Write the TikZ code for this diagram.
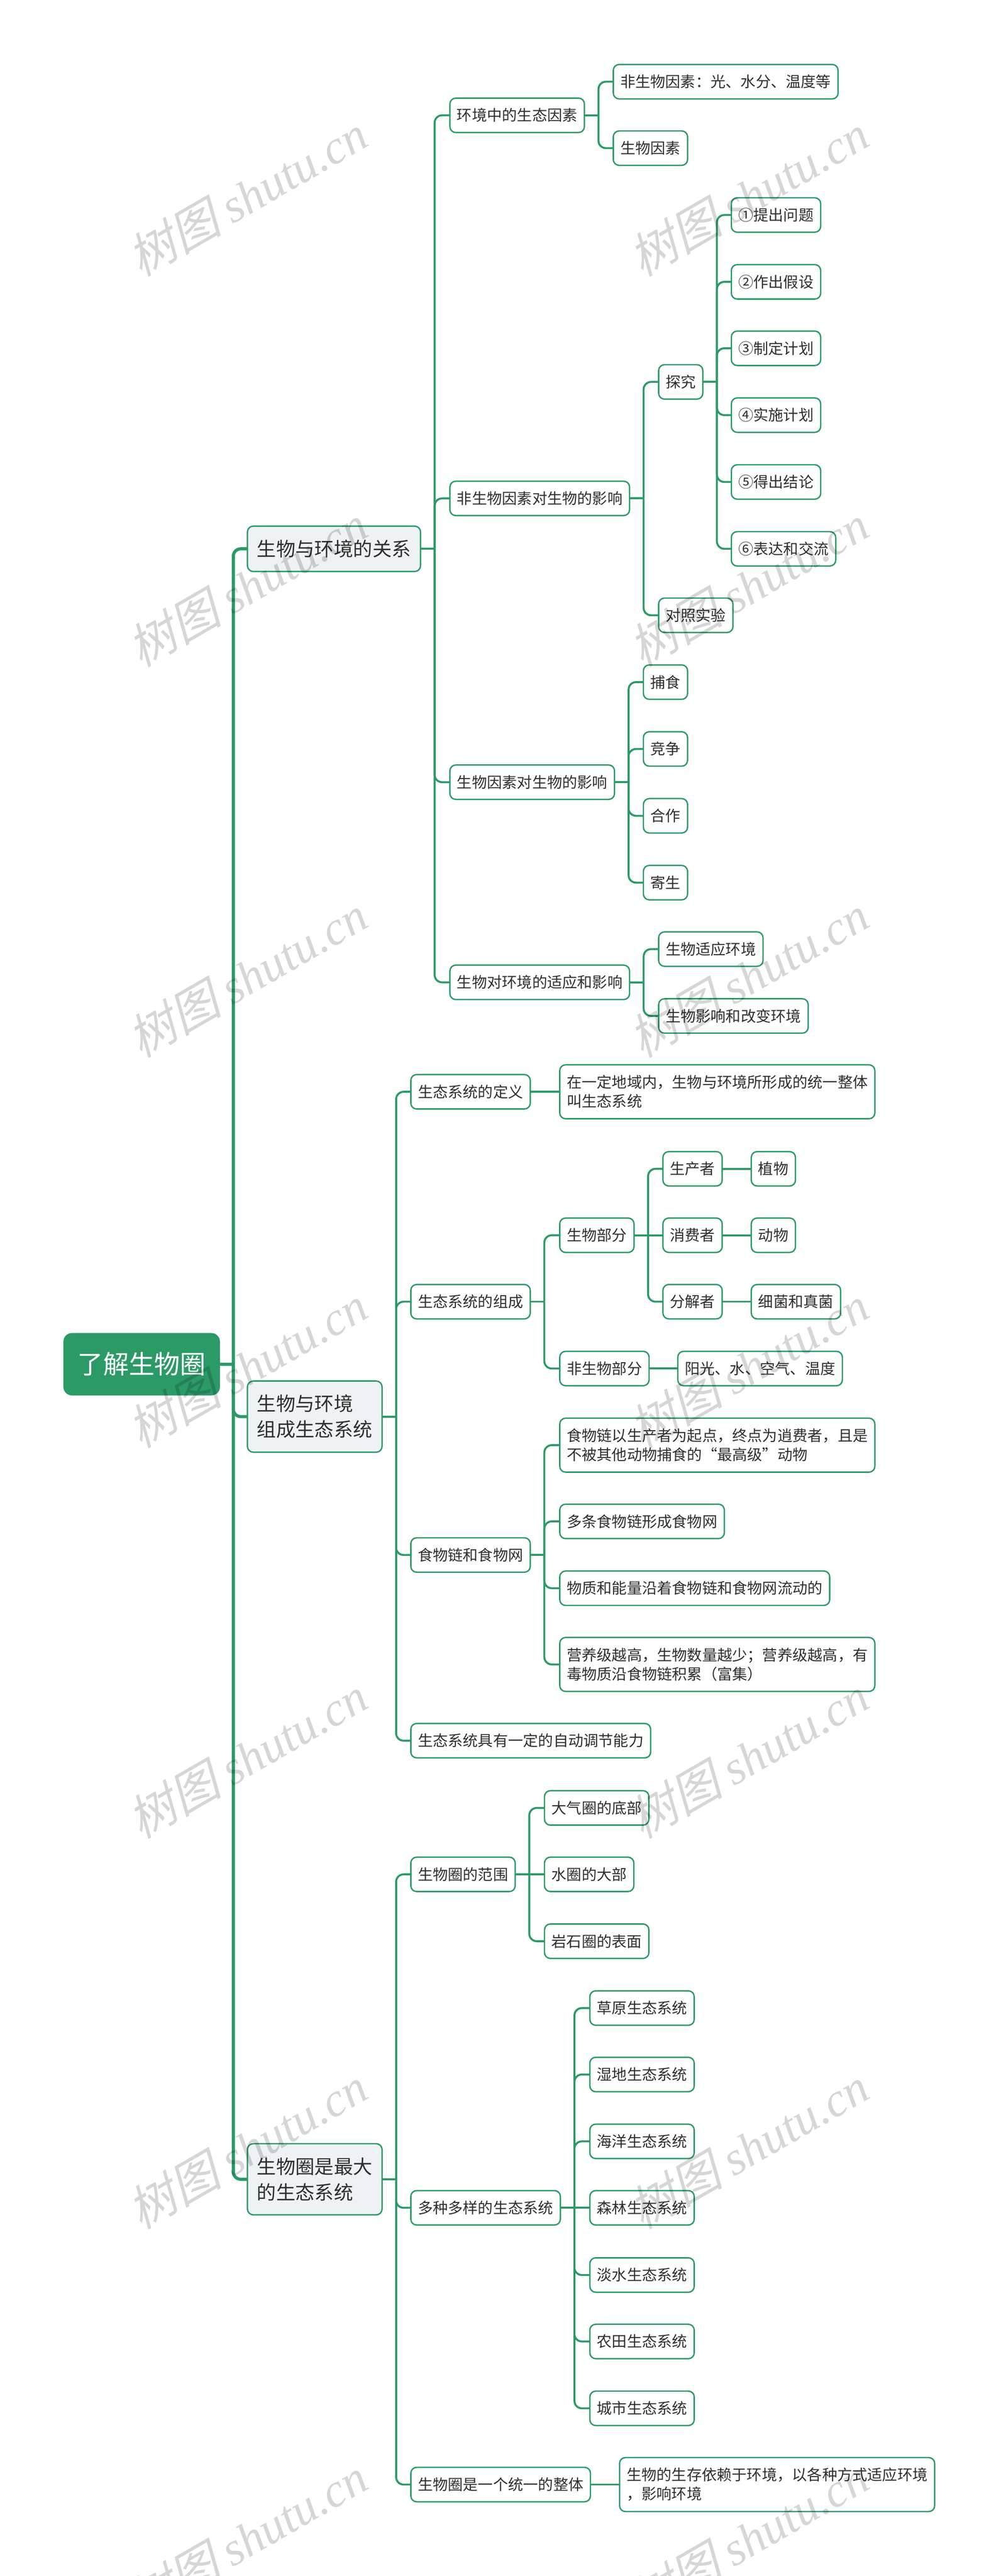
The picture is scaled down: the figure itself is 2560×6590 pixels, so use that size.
\documentclass[tikz,border=0pt]{standalone}
\usepackage{fontspec}
\setmainfont{Noto Sans CJK SC}
\newfontfamily\markcjk[FakeSlant=0.25]{Noto Sans CJK SC}
\newfontfamily\marklatin{Liberation Serif}
\usepackage{tikz}
\definecolor{leafgreen}{HTML}{2B9A67}
\definecolor{palebox}{HTML}{EEF2F5}
\definecolor{inktext}{HTML}{2E2E2E}
\tikzset{
  leaf/.style={draw=leafgreen, line width=0.035cm, fill=white, rounded corners=0.15cm, anchor=west,
    outer sep=0pt, inner xsep=0.18cm, inner ysep=0pt, minimum height=0.88cm, text=inktext, align=left,
    font=\fontsize{10.95}{13.9}\selectfont},
  note/.style={leaf, minimum height=1.38cm},
  topic/.style={leaf, fill=palebox, inner xsep=0.245cm, minimum height=1.16cm,
    font=\fontsize{14}{18.8}\selectfont},
  tallTopic/.style={topic, minimum height=1.82cm},
  rootBox/.style={leaf, fill=leafgreen, text=white, inner xsep=0.34cm, minimum height=1.56cm,
    rounded corners=0.2cm, font=\fontsize{18.7}{22}\selectfont},
  link/.style={draw=leafgreen, line width=0.05cm, rounded corners=0.19cm},
  straightLink/.style={draw=leafgreen, line width=0.05cm},
  thickLink/.style={link, line width=0.08cm},
  markText/.style={rotate=30, text=black, text opacity=0.16, font=\fontsize{34.6}{36}\selectfont}
}
\begin{document}
\begin{tikzpicture}[x=0.01cm, y=-0.01cm]
\useasboundingbox (0,0) rectangle (2560,6590);
\node[rootBox] (root) at (164,3490) {了解生物圈};

\node[topic] (rel) at (633,1404) {生物与环境的关系};
\node[tallTopic] (comp) at (633,3624) {生物与环境\\组成生态系统};
\node[tallTopic] (big) at (633,5575) {生物圈是最大\\的生态系统};

\node[leaf] (env) at (1151,295) {环境中的生态因素};
\node[leaf] (abio) at (1151,1275) {非生物因素对生物的影响};
\node[leaf] (bio) at (1151,2001) {生物因素对生物的影响};
\node[leaf] (adapt) at (1151,2513) {生物对环境的适应和影响};

\node[leaf] (envA) at (1569,209) {非生物因素：光、水分、温度等};
\node[leaf] (envB) at (1569,379) {生物因素};

\node[leaf] (probe) at (1685,977) {探究};
\node[leaf] (contrast) at (1685,1574) {对照实验};
\node[leaf] (stepA) at (1871,550) {①提出问题};
\node[leaf] (stepB) at (1871,721) {②作出假设};
\node[leaf] (stepC) at (1871,891) {③制定计划};
\node[leaf] (stepD) at (1871,1062) {④实施计划};
\node[leaf] (stepE) at (1871,1233) {⑤得出结论};
\node[leaf] (stepF) at (1871,1404) {⑥表达和交流};

\node[leaf] (prey) at (1646,1745) {捕食};
\node[leaf] (rival) at (1646,1916) {竞争};
\node[leaf] (help) at (1646,2087) {合作};
\node[leaf] (host) at (1646,2258) {寄生};

\node[leaf] (fit) at (1685,2428) {生物适应环境};
\node[leaf] (alter) at (1685,2599) {生物影响和改变环境};

\node[leaf] (define) at (1051,2793) {生态系统的定义};
\node[note] (defineText) at (1432,2793) {在一定地域内，生物与环境所形成的统一整体\\叫生态系统};

\node[leaf] (parts) at (1051,3330) {生态系统的组成};
\node[leaf] (living) at (1432,3160) {生物部分};
\node[leaf] (maker) at (1696,2990) {生产者};
\node[leaf] (eater) at (1696,3160) {消费者};
\node[leaf] (decay) at (1696,3330) {分解者};
\node[leaf] (plant) at (1922,2990) {植物};
\node[leaf] (animal) at (1922,3160) {动物};
\node[leaf] (fungi) at (1922,3330) {细菌和真菌};
\node[leaf] (nonliving) at (1432,3501) {非生物部分};
\node[leaf] (sun) at (1734,3501) {阳光、水、空气、温度};

\node[leaf] (chain) at (1051,3978) {食物链和食物网};
\node[note] (chainA) at (1432,3697) {食物链以生产者为起点，终点为逍费者，且是\\不被其他动物捕食的“最高级”动物};
\node[leaf] (chainB) at (1432,3892) {多条食物链形成食物网};
\node[leaf] (chainC) at (1432,4063) {物质和能量沿着食物链和食物网流动的};
\node[note] (chainD) at (1432,4258) {营养级越高，生物数量越少；营养级越高，有\\毒物质沿食物链积累（富集）};
\node[leaf] (selfreg) at (1051,4453) {生态系统具有一定的自动调节能力};

\node[leaf] (range) at (1051,4795) {生物圈的范围};
\node[leaf] (air) at (1393,4625) {大气圈的底部};
\node[leaf] (water) at (1393,4795) {水圈的大部};
\node[leaf] (rock) at (1393,4966) {岩石圈的表面};

\node[leaf] (kinds) at (1051,5648) {多种多样的生态系统};
\node[leaf] (grass) at (1509,5137) {草原生态系统};
\node[leaf] (wet) at (1509,5307) {湿地生态系统};
\node[leaf] (sea) at (1509,5478) {海洋生态系统};
\node[leaf] (wood) at (1509,5648) {森林生态系统};
\node[leaf] (fresh) at (1509,5820) {淡水生态系统};
\node[leaf] (farm) at (1509,5990) {农田生态系统};
\node[leaf] (city) at (1509,6161) {城市生态系统};

\node[leaf] (whole) at (1051,6356) {生物圈是一个统一的整体};
\node[note] (wholeText) at (1585,6356) {生物的生存依赖于环境，以各种方式适应环境\\，影响环境};

\foreach \kid in {rel,comp,big} {
  \draw[thickLink] (root.east) -- ++(36,0) coordinate (fork);
  \draw[thickLink] (fork) |- (\kid.west);
}
\foreach \from/\kid in {rel/env,rel/abio,rel/bio,rel/adapt,
    env/envA,env/envB,abio/probe,abio/contrast,
    probe/stepA,probe/stepB,probe/stepC,probe/stepD,probe/stepE,probe/stepF,
    bio/prey,bio/rival,bio/help,bio/host,adapt/fit,adapt/alter,
    comp/define,comp/parts,comp/chain,comp/selfreg,
    parts/living,parts/nonliving,
    living/maker,living/decay,
    chain/chainA,chain/chainB,chain/chainC,chain/chainD,
    big/range,big/kinds,big/whole,
    range/air,range/rock,
    kinds/grass,kinds/wet,kinds/sea,kinds/fresh,kinds/farm,kinds/city} {
  \draw[link] (\from.east) -- ++(36,0) coordinate (fork);
  \draw[link] (fork) |- (\kid.west);
}
\foreach \from/\kid in {define/defineText,living/eater,maker/plant,eater/animal,decay/fungi,
    nonliving/sun,range/water,kinds/wood,whole/wholeText}
  \draw[straightLink] (\from.east) -- (\kid.west);

\foreach \row in {0,...,6}
  \foreach \col/\markx in {left/632,right/1914}
    \node[markText] (mark-\col-\row) at (\markx,500+999*\row)
      {\markcjk 树图 \marklatin\itshape shutu.cn};
\end{tikzpicture}
\end{document}
